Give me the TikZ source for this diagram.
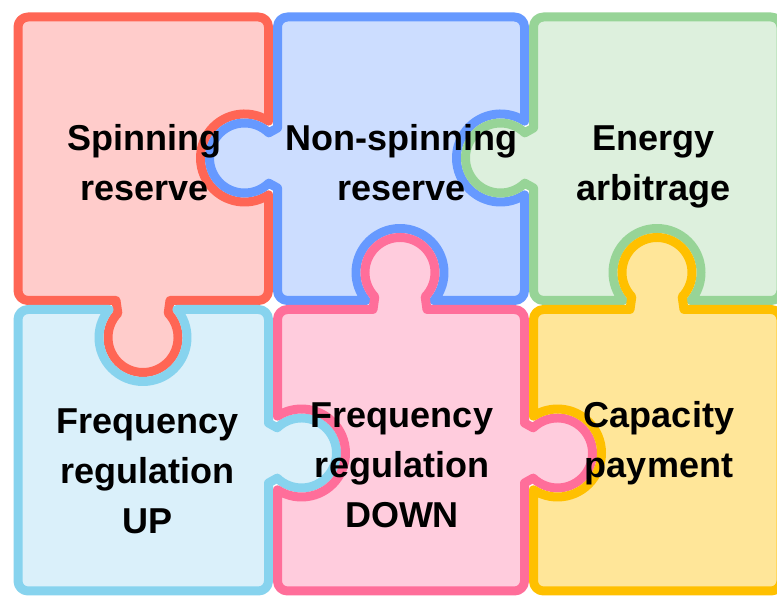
\documentclass[tikz,border=0pt]{standalone}
\usepackage{fontspec}
\setmainfont{Liberation Sans}
\definecolor{redfill}{HTML}{FFCCCB}
\definecolor{redline}{HTML}{FF6655}
\definecolor{bluefill}{HTML}{CCDDFF}
\definecolor{blueline}{HTML}{6699FF}
\definecolor{greenfill}{HTML}{DDF0DD}
\definecolor{greenline}{HTML}{97D497}
\definecolor{cyanfill}{HTML}{DAF0FA}
\definecolor{cyanline}{HTML}{87D3EE}
\definecolor{pinkfill}{HTML}{FFCCDD}
\definecolor{pinkline}{HTML}{FF6E9A}
\definecolor{yellowfill}{HTML}{FFE699}
\definecolor{yellowline}{HTML}{FFC000}
\tikzset{
  piece/.style 2 args={fill=#1, draw=#2, line width=9pt, line join=round},
  label/.style={align=center, font=\fontsize{36}{50}\selectfont\bfseries, text=black, inner sep=0pt}
}
\begin{document}
\begin{tikzpicture}[x=1pt,y=1pt]
\useasboundingbox (0,0) rectangle (777,596);
\clip (0,0) rectangle (777,596);
\fill[white] (0,0) rectangle (777,596);
% red: Spinning reserve
\draw[piece={redfill}{redline}] (28,579) -- (258.5,579) arc[start angle=90,end angle=0,radius=10] -- (268.5,474.88) arc[start angle=56.94,end angle=303.06,radius=44] -- (268.5,305.5) arc[start angle=0,end angle=-90,radius=10] -- (170,295.5) -- (168.2,282.8) arc[start angle=44,end angle=-224,radius=35] -- (116,295.5) -- (28,295.5) arc[start angle=270,end angle=180,radius=10] -- (18,569) arc[start angle=180,end angle=90,radius=10] -- cycle;
% blue: Non-spinning reserve
\draw[piece={bluefill}{blueline}] (287.5,579) -- (514.5,579) arc[start angle=90,end angle=0,radius=10] -- (524.5,474.88) arc[start angle=56.94,end angle=303.06,radius=44] -- (524.5,305.5) arc[start angle=0,end angle=-90,radius=10] -- (433.94,295.5) arc[start angle=320.48,end angle=579.52,radius=44] -- (287.5,295.5) arc[start angle=270,end angle=180,radius=10] -- (277.5,408) -- (268.8,412.8) arc[start angle=314,end angle=46,radius=35] -- (277.5,468) -- (277.5,569) arc[start angle=180,end angle=90,radius=10] -- cycle;
% green: Energy arbitrage
\draw[piece={greenfill}{greenline}] (543.5,579) -- (771,579) arc[start angle=90,end angle=0,radius=10] -- (781,305.5) arc[start angle=0,end angle=-90,radius=10] -- (690.94,295.5) arc[start angle=320.48,end angle=579.52,radius=44] -- (543.5,295.5) arc[start angle=270,end angle=180,radius=10] -- (533.5,408) -- (524.8,412.8) arc[start angle=314,end angle=46,radius=35] -- (533.5,468) -- (533.5,569) arc[start angle=180,end angle=90,radius=10] -- cycle;
% cyan: Frequency regulation UP
\draw[piece={cyanfill}{cyanline}] (28,286.5) -- (109.06,286.5) arc[start angle=140.48,end angle=399.52,radius=44] -- (258.5,286.5) arc[start angle=90,end angle=0,radius=10] -- (268.5,173) -- (277.2,168.2) arc[start angle=134,end angle=-134,radius=35] -- (268.5,113) -- (268.5,15) arc[start angle=0,end angle=-90,radius=10] -- (28,5) arc[start angle=270,end angle=180,radius=10] -- (18,276.5) arc[start angle=180,end angle=90,radius=10] -- cycle;
% pink: Frequency regulation DOWN
\draw[piece={pinkfill}{pinkline}] (287.5,286.5) -- (373,286.5) -- (374.8,299.2) arc[start angle=224,end angle=-44,radius=35] -- (427,286.5) -- (514.5,286.5) arc[start angle=90,end angle=0,radius=10] -- (524.5,173) -- (533.2,168.2) arc[start angle=134,end angle=-134,radius=35] -- (524.5,113) -- (524.5,15) arc[start angle=0,end angle=-90,radius=10] -- (287.5,5) arc[start angle=270,end angle=180,radius=10] -- (277.5,106.12) arc[start angle=236.94,end angle=483.06,radius=44] -- (277.5,276.5) arc[start angle=180,end angle=90,radius=10] -- cycle;
% yellow: Capacity payment
\draw[piece={yellowfill}{yellowline}] (543.5,286.5) -- (630,286.5) -- (631.8,299.2) arc[start angle=224,end angle=-44,radius=35] -- (684,286.5) -- (771,286.5) arc[start angle=90,end angle=0,radius=10] -- (781,15) arc[start angle=0,end angle=-90,radius=10] -- (543.5,5) arc[start angle=270,end angle=180,radius=10] -- (533.5,106.12) arc[start angle=236.94,end angle=483.06,radius=44] -- (533.5,276.5) arc[start angle=180,end angle=90,radius=10] -- cycle;
% labels
\node[label] (spin) at (144.5,433) {Spinning\\reserve};
\node[label] (nonspin) at (401.5,433) {Non-spinning\\reserve};
\node[label] (energy) at (653.5,429) {Energy\\arbitrage};
\node[label] (frup) at (147.5,125) {Frequency\\regulation\\UP};
\node[label] (frdown) at (402,131) {Frequency\\regulation\\DOWN};
\node[label] (cap) at (659,153) {Capacity\\payment};
\end{tikzpicture}
\end{document}
